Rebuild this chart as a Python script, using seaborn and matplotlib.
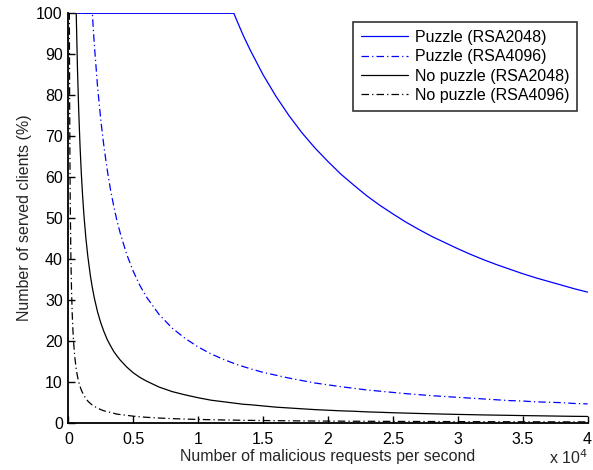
import matplotlib
matplotlib.use("Agg")
import matplotlib.pyplot as plt
import seaborn as sns
import pandas as pd

# Shared x grid (malicious requests per second)
x_req = [0, 40, 80, 100, 120, 150, 200, 250, 300, 350,
         400, 500, 610, 700, 800, 900, 1000, 1100, 1200, 1350,
         1500, 1700, 1850, 2000, 2250, 2500, 2750, 3000, 3250, 3500,
         3750, 4000, 4500, 5000, 5500, 6000, 7000, 8000, 9000, 10000,
         11000, 12000, 12750,
         13000, 13500, 14000, 15000, 16000, 17000, 18000, 19000, 20000, 21000,
         22000, 23000, 24000, 25000, 26000, 27000, 28000, 29000, 30000, 31000,
         32000, 33000, 34000, 35000, 36000, 37000, 38000, 39000, 40000]

puzzle_2048 = [100] * 43 + [98.1, 94.4, 91.1, 85.0, 79.7, 75.0, 70.8, 67.1,
                            63.8, 60.7, 58.0, 55.4, 53.1, 51.0, 49.0, 47.2,
                            45.5, 44.0, 42.5, 41.1, 39.8, 38.6, 37.5, 36.4,
                            35.4, 34.5, 33.6, 32.7, 31.9]

puzzle_4096 = [100] * 23 + [92.5, 82.2, 74.0, 67.3, 61.7, 56.9, 52.9, 49.3,
                            46.3, 41.1, 37.0, 33.6, 30.8, 26.4, 23.1, 20.6,
                            18.5, 16.8, 15.4, 14.5,
                            14.2, 13.7, 13.2, 12.3, 11.6, 10.9, 10.3, 9.7,
                            9.25, 8.8, 8.4, 8.0, 7.7, 7.4, 7.1, 6.85,
                            6.6, 6.4, 6.2, 6.0, 5.8, 5.6, 5.4, 5.3,
                            5.1, 5.0, 4.9, 4.7, 4.6]

nopuzzle_2048 = [100] * 13 + [87.1, 76.3, 67.8, 61.0, 55.5, 50.8, 45.2, 40.7,
                              35.9, 33.0, 30.5, 27.1, 24.4, 22.2, 20.3, 18.8,
                              17.4, 16.3, 15.3, 13.6, 12.2, 11.1, 10.2, 8.7,
                              7.6, 6.8, 6.1, 5.5, 5.1, 4.8,
                              4.7, 4.5, 4.4, 4.1, 3.8, 3.6, 3.4, 3.2,
                              3.05, 2.9, 2.8, 2.65, 2.55, 2.44, 2.35, 2.26,
                              2.18, 2.1, 2.03, 1.97, 1.9, 1.85, 1.8, 1.74,
                              1.7, 1.65, 1.6, 1.56, 1.53]

nopuzzle_4096 = [100, 100, 100, 80, 66.7, 53.3, 40, 32, 26.7, 22.9,
                 20, 16, 13.1, 11.4, 10, 8.9, 8, 7.3, 6.7, 5.9,
                 5.3, 4.7, 4.3, 4.0, 3.6, 3.2, 2.9, 2.7, 2.5, 2.3,
                 2.1, 2.0, 1.8, 1.6, 1.45, 1.33, 1.14, 1.0, 0.89, 0.8,
                 0.73, 0.67, 0.63,
                 0.62, 0.59, 0.57, 0.53, 0.5, 0.47, 0.44, 0.42, 0.4, 0.38,
                 0.36, 0.35, 0.33, 0.32, 0.31, 0.3, 0.29, 0.28, 0.27, 0.26,
                 0.25, 0.24, 0.24, 0.23, 0.22, 0.22, 0.21, 0.21, 0.2]

series_names = ["Puzzle (RSA2048)", "Puzzle (RSA4096)",
                "No puzzle (RSA2048)", "No puzzle (RSA4096)"]
series_values = [puzzle_2048, puzzle_4096, nopuzzle_2048, nopuzzle_4096]
series_colors = ["#0000ff", "#0000ff", "#000000", "#000000"]
dashdot = (6, 2.5, 1, 2.5)
series_dashes = ["", dashdot, "", dashdot]

x_ticks = [0, 5000, 10000, 15000, 20000, 25000, 30000, 35000, 40000]
x_tick_labels = ["0", "0.5", "1", "1.5", "2", "2.5", "3", "3.5", "4"]
y_ticks = [0, 10, 20, 30, 40, 50, 60, 70, 80, 90, 100]

rows = []
for name, vals in zip(series_names, series_values):
    for xv, yv in zip(x_req, vals):
        rows.append({"x": xv, "y": yv, "series": name})
df = pd.DataFrame(rows)

sns.set_style("white")
plt.rcParams["font.family"] = ["Liberation Sans", "DejaVu Sans"]

FS = 11.5
fig = plt.figure(figsize=(5.93, 4.70), dpi=100)
ax = fig.add_axes([0.1152, 0.1006, 0.8757, 0.8711])

sns.lineplot(data=df, x="x", y="y", hue="series", style="series",
             palette=dict(zip(series_names, series_colors)),
             dashes=dict(zip(series_names, series_dashes)),
             hue_order=series_names, style_order=series_names,
             linewidth=0.9, ax=ax, legend=True, estimator=None)

ax.set_xlim(0, 40000)
ax.set_ylim(0, 100)
ax.set_xticks(x_ticks)
ax.set_xticklabels(x_tick_labels)
ax.set_yticks(y_ticks)
ax.tick_params(direction="in", length=5, width=1, labelsize=FS,
               colors="black", top=False, right=False,
               bottom=True, left=True)
ax.tick_params(axis="x", pad=7)
ax.tick_params(axis="y", pad=4)
for side in ["top", "right"]:
    ax.spines[side].set_visible(False)
for side in ["left", "bottom"]:
    ax.spines[side].set_color("black")
    ax.spines[side].set_linewidth(1.3)

ax.set_xlabel("Number of malicious requests per second", fontsize=FS)
ax.set_ylabel("Number of served clients (%)", fontsize=FS)
ax.xaxis.set_label_coords(0.5, -0.064)
ax.yaxis.set_label_coords(-0.070, 0.5)

ax.text(1.0, -0.102, r"x 10$^{4}$", transform=ax.transAxes,
        ha="right", va="baseline", fontsize=FS)

leg = ax.legend(loc="upper right", bbox_to_anchor=(0.980, 0.979),
                fontsize=FS, frameon=True, fancybox=False,
                borderpad=0.5, labelspacing=0.27, handlelength=2.9,
                handletextpad=0.45, borderaxespad=0)
leg.get_frame().set_edgecolor("black")
leg.get_frame().set_linewidth(1.2)
for t in leg.get_texts():
    t.set_color("black")

fig.savefig("out.png", dpi=100)
